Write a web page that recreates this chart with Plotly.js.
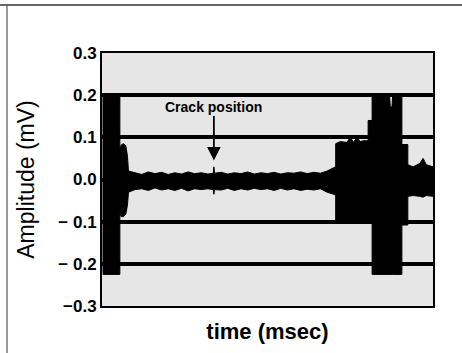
<!DOCTYPE html>
<html>
<head>
<meta charset="utf-8">
<script src="https://cdn.plot.ly/plotly-3.0.1.min.js"></script>
<style>html,body{margin:0;padding:0;background:#fff;}#chart{width:462px;height:353px;}</style>
</head>
<body>
<div id="chart"></div>
<script>
// time axis (arbitrary msec units, no tick labels in the original)
const time  = [0.3, 0.3, 5.4, 5.4, 5.8, 6.5, 7.2, 7.7, 8.0, 10, 12, 14, 16, 18, 20, 22, 24, 26, 28, 30, 32, 33.6, 33.8, 34.0, 36, 38, 40, 42, 44, 46, 48, 50, 52, 54, 56, 58, 60, 62, 64, 66, 68, 70, 70.6, 70.6, 72, 74, 75, 76, 77, 78, 79, 80.4, 80.4, 81.6, 81.6, 86.9, 87.1, 87.6, 87.8, 90.6, 90.6, 92.4, 92.4, 94, 96, 97, 98, 100];
// upper envelope of the signal (mV)
const upper = [0, 0.197, 0.197, 0.07, 0.082, 0.085, 0.08, 0.055, 0.02, 0.016, 0.012, 0.018, 0.014, 0.017, 0.012, 0.016, 0.013, 0.018, 0.014, 0.016, 0.013, 0.015, 0.03, 0.015, 0.017, 0.013, 0.016, 0.014, 0.018, 0.013, 0.016, 0.014, 0.017, 0.013, 0.016, 0.015, 0.018, 0.014, 0.017, 0.015, 0.02, 0.028, 0.03, 0.085, 0.09, 0.088, 0.1, 0.088, 0.1, 0.09, 0.092, 0.092, 0.14, 0.14, 0.197, 0.197, 0.172, 0.172, 0.197, 0.197, 0.083, 0.083, 0.035, 0.03, 0.038, 0.05, 0.035, 0.03];
// lower envelope of the signal (mV)
const lower = [0, -0.225, -0.225, -0.08, -0.088, -0.088, -0.082, -0.06, -0.03, -0.024, -0.022, -0.026, -0.02, -0.025, -0.022, -0.026, -0.021, -0.027, -0.022, -0.024, -0.022, -0.024, -0.035, -0.024, -0.025, -0.021, -0.026, -0.022, -0.025, -0.021, -0.024, -0.022, -0.026, -0.021, -0.025, -0.022, -0.026, -0.023, -0.025, -0.022, -0.03, -0.035, -0.038, -0.098, -0.1, -0.1, -0.1, -0.098, -0.1, -0.1, -0.1, -0.1, -0.1, -0.1, -0.225, -0.225, -0.225, -0.225, -0.225, -0.225, -0.108, -0.108, -0.04, -0.038, -0.04, -0.042, -0.038, -0.04];
const yTickVals = [-0.3, -0.2, -0.1, 0.0, 0.1, 0.2, 0.3];
const yTickText = ['\u22120.3', '\u2212 0.2', '\u2212 0.1', '0.0', '0.1', '0.2', '0.3'];
const crackTime = 33.8;
const crackAmp = 0.045;

const polyX = time.concat(time.slice().reverse());
const polyY = upper.concat(lower.slice().reverse());

const trace = {
  x: polyX, y: polyY, type: 'scatter', mode: 'lines',
  fill: 'toself', fillcolor: '#000', line: {color: '#000', width: 1},
  hoverinfo: 'skip', showlegend: false
};

const layout = {
  width: 462, height: 353,
  margin: {l: 102, r: 29, t: 53, b: 47},
  paper_bgcolor: '#fff', plot_bgcolor: '#e6e6e6',
  font: {family: 'Liberation Sans, Arial, sans-serif', color: '#000'},
  xaxis: {
    range: [0, 100], showticklabels: false, ticks: '', showgrid: false, zeroline: false,
    showline: true, mirror: true, linecolor: '#000', linewidth: 2,
    title: {text: 'time (msec)', standoff: 17,
      font: {family: 'Liberation Sans Narrow, Liberation Sans, Arial', size: 22, weight: 700, color: '#000'}}
  },
  yaxis: {
    range: [-0.3, 0.3], tickvals: yTickVals, ticktext: yTickText, ticks: '',
    showgrid: true, gridcolor: '#000', gridwidth: 4, zeroline: false,
    showline: true, mirror: true, linecolor: '#000', linewidth: 2,
    tickfont: {family: 'Liberation Sans, Arial', size: 17, weight: 700, color: '#000'},
    title: {text: 'Amplitude (mV)', standoff: 17,
      font: {family: 'Liberation Sans, Arial', size: 23, color: '#000'}}
  },
  annotations: [{
    x: crackTime, y: crackAmp, xref: 'x', yref: 'y',
    text: 'Crack position', showarrow: true, arrowhead: 2, arrowsize: 1.5, arrowwidth: 1.8,
    arrowcolor: '#000', ax: 0, ay: -54,
    font: {family: 'Liberation Sans Narrow, Liberation Sans, Arial', size: 14, weight: 700, color: '#000'}
  }],
  shapes: [
    {type: 'line', xref: 'paper', yref: 'paper', x0: -0.31, x1: 1.09, y0: 1.19, y1: 1.19, line: {color: '#333', width: 1.5}},
    {type: 'line', xref: 'paper', yref: 'paper', x0: -0.287, x1: -0.287, y0: -0.19, y1: 1.19, line: {color: '#555', width: 1.2}}
  ]
};

Plotly.newPlot('chart', [trace], layout, {staticPlot: true, displayModeBar: false});
</script>
</body>
</html>
